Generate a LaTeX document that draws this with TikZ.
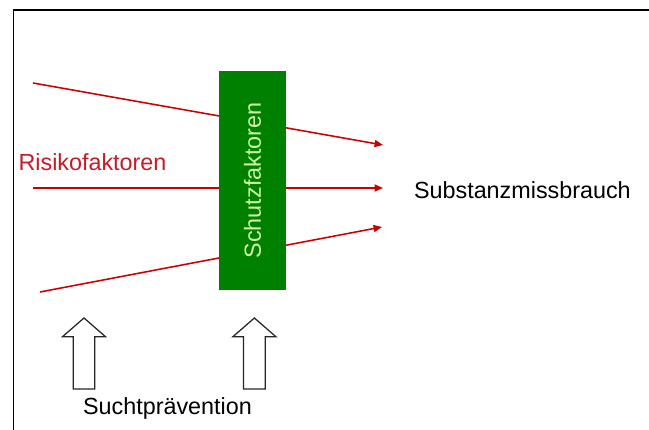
\documentclass[tikz,border=0pt]{standalone}
\usepackage{fontspec}
\setmainfont{Liberation Sans}
\usepackage{tikz}
\usetikzlibrary{arrows.meta, positioning}
\definecolor{risikorot}{RGB}{200,0,0}
\definecolor{textrot}{RGB}{192,30,40}
\definecolor{schutzgruen}{RGB}{0,128,0}
\definecolor{hellgruen}{RGB}{204,244,160}
\tikzstyle{risiko} = [line width=1.1pt, draw=risikorot, -{Triangle[length=6pt,width=5pt]}]
\tikzstyle{beschriftung} = [font=\fontsize{16.6}{20}\selectfont, inner sep=0pt]
\tikzstyle{blockpfeil} = [line width=0.9pt, draw=black!85]

\begin{document}
\begin{tikzpicture}
    \useasboundingbox (0,0) rectangle (16.225,10.75);

    % Rahmen
    \draw[line width=1.4pt] (0.3375,0) -- (0.3375,10.49) -- (16.225,10.49);

    % Risikofaktoren (Pfeile laufen hinter dem Kasten durch)
    \coordinate (r1_start) at (0.825,8.675);
    \coordinate (r1_end) at (9.575,7.125);
    \coordinate (r2_start) at (0.825,6.05);
    \coordinate (r2_end) at (9.575,6.05);
    \coordinate (r3_start) at (1.0,3.45);
    \coordinate (r3_end) at (9.55,5.075);
    \draw[risiko] (r1_start) -- (r1_end);
    \draw[risiko] (r2_start) -- (r2_end);
    \draw[risiko] (r3_start) -- (r3_end);
    \node[beschriftung, text=textrot] (risiko_label) at (2.3125,6.7) {Risikofaktoren};

    % Schutzfaktoren
    \node[beschriftung, fill=schutzgruen, text=hellgruen, rotate=90,
          minimum width=5.475cm, minimum height=1.675cm] (schutz) at (6.3125,6.2375) {Schutzfaktoren};

    % Substanzmissbrauch
    \node[beschriftung] (sub_label) at (13.06,6.0) {Substanzmissbrauch};

    % Suchtpraevention
    \node[beschriftung] (praev_label) at (4.1875,0.55) {Suchtprävention};
    \foreach \x in {2.1, 6.36} {
        \draw[blockpfeil] (\x,2.8) -- ++(0.5375,-0.4675) -- ++(-0.2675,0) -- ++(0,-1.3075)
            -- ++(-0.54,0) -- ++(0,1.3075) -- ++(-0.2675,0) -- cycle;
    }
\end{tikzpicture}
\end{document}
